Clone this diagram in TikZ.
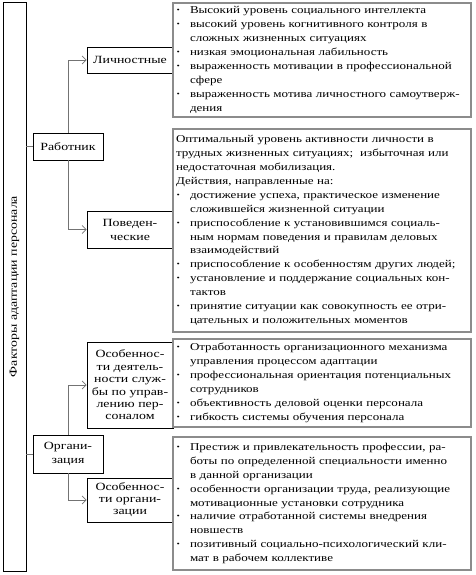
\documentclass[tikz,border=0pt]{standalone}
\usepackage{fontspec}
\setmainfont{Liberation Serif}
\newfontfamily\lfont{Liberation Serif}[FakeStretch=1.26]
\newfontfamily\rfont{Liberation Serif}[FakeStretch=1.24]
\usetikzlibrary{arrows.meta}
\newcommand\bitem[1]{\makebox[14pt][l]{\textbf{·}}#1}
\newcommand\bcont[1]{\hspace*{14pt}#1}
\begin{document}
\begin{tikzpicture}[x=1pt,y=-1pt,
  lbox/.style={draw=black,line width=0.7pt,fill=white,inner sep=0pt,align=center,
    font=\lfont\fontsize{11}{12.5}\selectfont},
  rbox/.style={draw=black!45,line width=1.6pt,fill=white,inner xsep=3pt,inner ysep=0pt,
    text width=292pt,minimum width=298pt,align=left,
    font=\rfont\fontsize{10.5}{13.9}\selectfont},
  conn/.style={draw=black!55,line width=0.8pt},
  arr/.style={conn,-{Straight Barb[length=4pt,width=8pt,line width=0.8pt]}}]
\useasboundingbox (0,0) rectangle (475,575);
\node[lbox,minimum width=23pt,minimum height=569pt] (fac) at (14.5,286.5) {};
\node[rotate=90,font=\lfont\fontsize{11}{12.5}\selectfont] (factxt) at (fac.center) {Факторы адаптации персонала};
\node[lbox,minimum width=70pt,minimum height=27pt] (rab) at (68,146.5) {Работник};
\node[lbox,minimum width=86pt,minimum height=26pt] (lich) at (130,60) {Личностные};
\node[lbox,minimum width=86pt,minimum height=37pt,font=\lfont\fontsize{11}{14}\selectfont] (pov) at (130,229.5) {Поведен-\\ческие};
\node[lbox,minimum width=86pt,minimum height=86pt,font=\lfont\fontsize{11}{12.4}\selectfont] (osd) at (130,385) {Особеннос-\\ти деятель-\\ности служ-\\бы по управ-\\лению пер-\\соналом};
\node[lbox,minimum width=70pt,minimum height=38pt,font=\lfont\fontsize{11}{14.5}\selectfont] (org) at (68,454) {Органи-\\зация};
\node[lbox,minimum width=86pt,minimum height=44pt,font=\lfont\fontsize{11}{12}\selectfont] (oso) at (130,500) {Особеннос-\\ти органи-\\зации};
\node[rbox,minimum height=114pt] (b1) at (322,60) {%
\bitem{Высокий уровень социального интеллекта}\\
\bitem{высокий уровень когнитивного контроля в}\\
\bcont{сложных жизненных ситуациях}\\
\bitem{низкая эмоциональная лабильность}\\
\bitem{выраженность мотивации в профессиональной}\\
\bcont{сфере}\\
\bitem{выраженность мотива личностного самоутверж-}\\
\bcont{дения}};
\node[rbox,minimum height=203pt] (b2) at (322,230.5) {%
Оптимальный уровень активности личности в\\
трудных жизненных ситуациях;\ \ избыточная или\\
недостаточная мобилизация.\\
Действия, направленные на:\\
\bitem{достижение успеха, практическое изменение}\\
\bcont{сложившейся жизненной ситуации}\\
\bitem{приспособление к установившимся социаль-}\\
\bcont{ным нормам поведения и правилам деловых}\\
\bcont{взаимодействий}\\
\bitem{приспособление к особенностям других людей;}\\
\bitem{установление и поддержание социальных кон-}\\
\bcont{тактов}\\
\bitem{принятие ситуации как совокупность ее отри-}\\
\bcont{цательных и положительных моментов}};
\node[rbox,minimum height=88pt] (b3) at (322,383) {%
\bitem{Отработанность организационного механизма}\\
\bcont{управления процессом адаптации}\\
\bitem{профессиональная ориентация потенциальных}\\
\bcont{сотрудников}\\
\bitem{объективность деловой оценки персонала}\\
\bitem{гибкость системы обучения персонала}};
\node[rbox,minimum height=133pt] (b4) at (322,503.5) {%
\bitem{Престиж и привлекательность профессии, ра-}\\
\bcont{боты по определенной специальности именно}\\
\bcont{в данной организации}\\
\bitem{особенности организации труда, реализующие}\\
\bcont{мотивационные установки сотрудника}\\
\bitem{наличие отработанной системы внедрения}\\
\bcont{новшеств}\\
\bitem{позитивный социально-психологический кли-}\\
\bcont{мат в рабочем коллективе}};
\draw[conn] (fac.east |- rab.west) -- (rab.west);
\draw[conn] (fac.east |- org.west) -- (org.west);
\draw[arr] (rab.north) |- (lich.west);
\draw[arr] (rab.south) |- (pov.west);
\draw[arr] (org.north) |- (osd.west);
\draw[arr] (org.south) |- (oso.west);
\end{tikzpicture}
\end{document}
